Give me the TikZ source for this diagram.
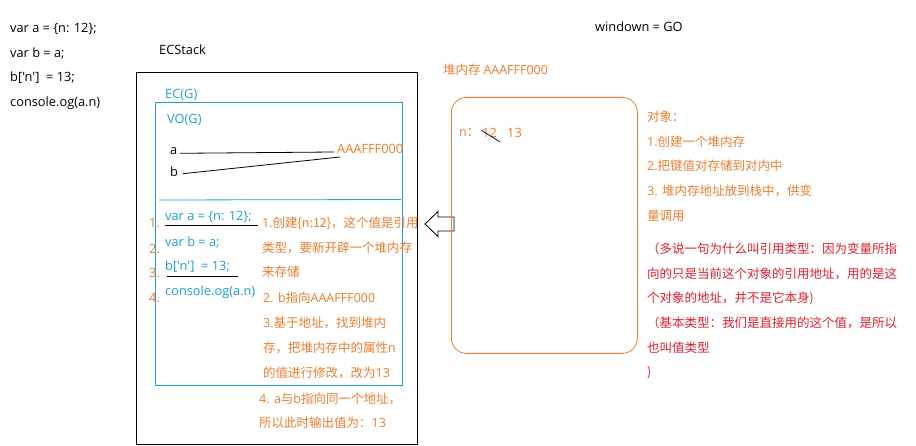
\documentclass[tikz,border=0pt]{standalone}
\usepackage{fontspec}
\setmainfont{Noto Sans CJK SC}[Ligatures=TeXOff]
\newfontfamily\lat{Open Sans}[Ligatures=TeXOff]
\definecolor{org}{RGB}{237,125,49}
\definecolor{blu}{RGB}{30,160,215}
\definecolor{rd}{RGB}{222,32,48}
\begin{document}
\begin{tikzpicture}[x=1pt,y=-1pt,
  txt/.style={anchor=west,inner sep=0pt,font=\fontsize{12.5}{15}\selectfont},
  ltxt/.style={anchor=west,inner sep=0pt,font=\lat\fontsize{12.8}{15}\selectfont},
  otxt/.style={txt,text=org},
  oltxt/.style={ltxt,text=org},
  bltxt/.style={ltxt,text=blu},
  rtxt/.style={txt,text=rd},
  box/.style={draw,anchor=north west,inner sep=0pt,line width=0.8pt}]
\useasboundingbox[fill=white] (0,0) rectangle (916,446);
% top-left code
\node[ltxt] (c1) at (10,29) {var a = \{n: 12\};};
\node[ltxt] (c2) at (10,53) {var b = a;};
\node[ltxt] (c3) at (10,78) {b['n']\ \ = 13;};
\node[ltxt] (c4) at (10,103) {console.og(a.n)};
\node[ltxt] (ecs) at (159,50) {ECStack};
\node[ltxt] (win) at (595,27) {windown = GO};
% stack box
\node[box,minimum width=281pt,minimum height=372pt] (stack) at (136,72) {};
\node[bltxt] (ecg) at (165,95) {EC(G)};
\node[box,draw=blu,minimum width=247pt,minimum height=283pt] (ec) at (155,102) {};
\node[bltxt] (vog) at (167,120) {VO(G)};
\node[ltxt] (va) at (170,151) {a};
\node[ltxt] (vb) at (170,172) {b};
\node[oltxt] (addr) at (337,149) {AAAFFF000};
\coordinate (pa) at (334,152);
\coordinate (pb) at (340,157);
\draw[line width=0.8pt] (180,153.3) -- (pa);
\draw[line width=0.8pt] (183,173.7) -- (pb);
\coordinate (s1) at (159,200);
\coordinate (s2) at (401,199.5);
\draw[blu,line width=0.8pt] (s1) -- (s2);
% numbers
\node[oltxt] (n1) at (149,223) {1.};
\node[oltxt] (n2) at (149,249) {2.};
\node[oltxt] (n3) at (149,273) {3.};
\node[oltxt] (n4) at (149,298) {4.};
% blue code
\node[bltxt] (b1) at (165,217) {var a = \{n: 12\};};
\node[bltxt] (b2) at (165,242) {var b = a;};
\node[bltxt] (b3) at (165,267) {b['n']\ \ = 13;};
\node[bltxt] (b4) at (165,292) {console.og(a.n)};
\coordinate (u1a) at (165,225.5);
\coordinate (u1b) at (258,225.5);
\coordinate (u3a) at (167,276);
\coordinate (u3b) at (238,276);
\draw[line width=0.8pt] (u1a) -- (u1b);
\draw[line width=0.8pt] (u3a) -- (u3b);
% explanation
\node[otxt] (e1) at (262,223) {{\lat 1.}创建\{n:12\}，这个值是引用};
\node[otxt] (e2) at (262,248) {类型，要新开辟一个堆内存};
\node[otxt] (e3) at (262,272) {来存储};
\node[otxt] (e4) at (263,298) {{\lat 2. b}指向{\lat AAAFFF000}};
\node[otxt] (e5) at (263,323) {{\lat 3.}基于地址，找到堆内};
\node[otxt] (e6) at (263,348) {存，把堆内存中的属性{\lat n}};
\node[otxt] (e7) at (263,373) {的值进行修改，改为{\lat 13}};
\node[otxt] (e8) at (259,399) {{\lat 4. a}与{\lat b}指向同一个地址，};
\node[otxt] (e9) at (259,423) {所以此时输出值为：{\lat 13}};
% hollow arrow
\draw[line width=0.8pt,fill=white] (425,224) -- (438,211.5) -- (438,217) -- (454,217) -- (454,231) -- (438,231) -- (438,236.5) -- cycle;
% heap
\node[otxt] (heapl) at (443,70) {堆内存 {\lat AAAFFF000}};
\node[box,draw=org,rounded corners=15pt,minimum width=186pt,minimum height=256pt] (heap) at (451,97) {};
\node[otxt] (hn) at (459,133) {{\lat n}：};
\node[oltxt] (h12) at (482,133) {12};
\node[oltxt] (h13) at (507,133) {13};
\coordinate (k1) at (481,130);
\coordinate (k2) at (500,142);
\draw[line width=0.7pt] (k1) -- (k2);
% right notes
\node[otxt] (o1) at (647,117) {对象：};
\node[otxt] (o2) at (647,142) {{\lat 1.}创建一个堆内存};
\node[otxt] (o3) at (647,166) {{\lat 2.}把键值对存储到对内中};
\node[otxt] (o4) at (647,191) {{\lat 3. }堆内存地址放到栈中，供变};
\node[otxt] (o5) at (647,216) {量调用};
\node[rtxt] (r1) at (647,249) {（多说一句为什么叫引用类型：因为变量所指};
\node[rtxt] (r2) at (647,274) {向的只是当前这个对象的引用地址，用的是这};
\node[rtxt] (r3) at (647,298) {个对象的地址，并不是它本身)};
\node[rtxt] (r4) at (647,323) {（基本类型：我们是直接用的这个值，是所以};
\node[rtxt] (r5) at (647,348) {也叫值类型};
\node[rtxt] (r6) at (647,373) {)};
\end{tikzpicture}
\end{document}
